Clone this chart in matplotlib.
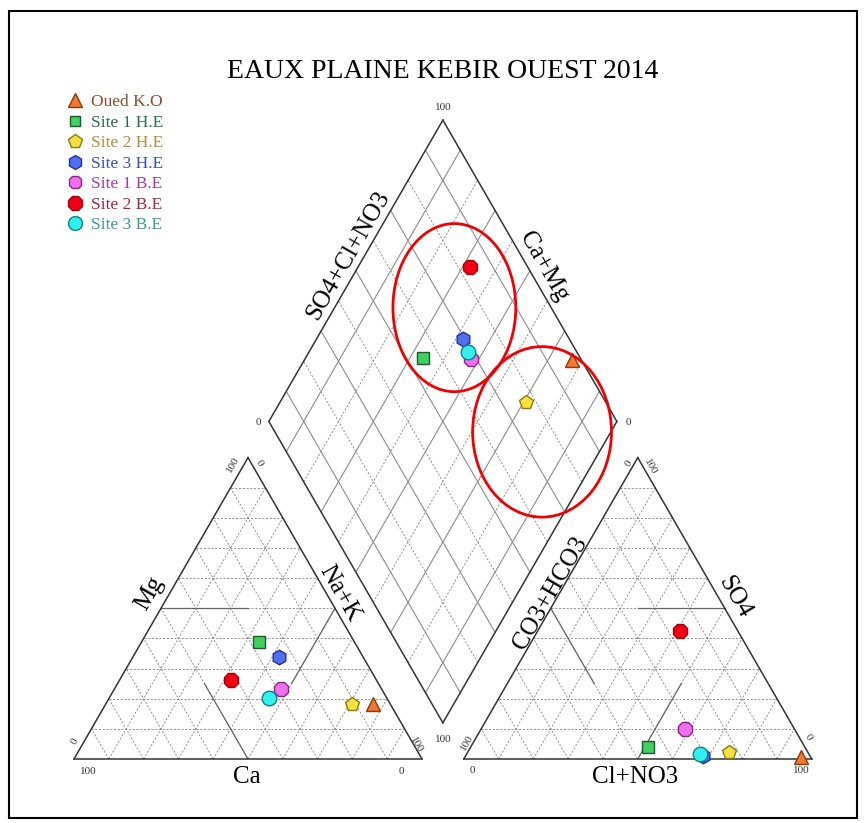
import matplotlib.pyplot as plt
import numpy as np
from matplotlib.patches import Ellipse, Rectangle

plt.rcParams['font.family'] = ['Liberation Serif', 'DejaVu Serif']

# echantillons
names = ['Oued K.O', 'Site 1 H.E', 'Site 2 H.E', 'Site 3 H.E',
         'Site 1 B.E', 'Site 2 B.E', 'Site 3 B.E']
# cations (% meq)
ca = [4.8, 27.3, 11.0, 24.0, 28.9, 41.7, 34.0]
mg = [18.3, 38.9, 18.3, 33.9, 23.3, 26.2, 20.2]
nak = [76.9, 33.8, 70.7, 42.1, 47.8, 32.1, 45.8]
# anions (% meq)
hco3 = [2.6, 45.0, 22.7, 30.7, 31.4, 16.7, 31.2]
so4 = [0.8, 4.0, 2.2, 1.0, 10.1, 42.5, 1.6]
cl = [96.6, 51.0, 75.1, 68.3, 58.5, 40.8, 67.2]

markers = ['^', 's', 'p', 'h', '8', '8', 'o']
fills = ['#F07830', '#40D060', '#F8E040', '#5070F0', '#F070F0', '#F00010', '#30F0F0']
edges = ['#8B3A0A', '#1A5A2A', '#8A7A10', '#2030A0', '#902090', '#A00010', '#108080']
text_cols = ['#8B4A2B', '#2E6B4F', '#A8923A', '#3A4FB8', '#A83AA8', '#A0283C', '#3A9A9A']
sizes = [10, 8, 10.5, 10.5, 10.5, 11, 10.5]

G = 12.0            # ecart entre triangles
H = np.sqrt(3) / 2


def cat_xy(c, m, n):
    return n + m / 2, m * H


def an_xy(h, s, c):
    return 100 + G + c + s / 2, s * H


def dia_xy(camg, so4cl):
    bx, by = 100 + G / 2, G / 2 * np.sqrt(3)
    return bx + (so4cl - camg) / 2, by + (so4cl + camg) * H


fig = plt.figure(figsize=(8.65, 8.23), dpi=100)
ax = fig.add_axes([0, 0, 1, 1])
S = 3.48
ax.set_xlim(-74 / S, (865 - 74) / S)
ax.set_ylim((759 - 823) / S, 759 / S)
ax.axis('off')

edge_kw = dict(color='0.2', lw=1.1, zorder=3)
grid_kw = dict(color='0.5', lw=0.6, ls=(0, (2.5, 2)), zorder=1)
div_kw = dict(color='0.4', lw=0.9, zorder=2)


def seg(f, a, b, **kw):
    p, q = f(*a), f(*b)
    ax.plot([p[0], q[0]], [p[1], q[1]], **kw)


# triangles
for f in (cat_xy, an_xy):
    seg(f, (100, 0, 0), (0, 0, 100), **edge_kw)
    seg(f, (0, 0, 100), (0, 100, 0), **edge_kw)
    seg(f, (0, 100, 0), (100, 0, 0), **edge_kw)
    for k in range(10, 100, 10):
        seg(f, (100 - k, k, 0), (0, k, 100 - k), **grid_kw)
        seg(f, (k, 0, 100 - k), (k, 100 - k, 0), **grid_kw)
        seg(f, (100 - k, 0, k), (0, 100 - k, k), **grid_kw)

seg(cat_xy, (50, 50, 0), (25, 50, 25), **div_kw)
seg(cat_xy, (50, 0, 50), (50, 25, 25), **div_kw)
seg(cat_xy, (0, 50, 50), (25, 25, 50), **div_kw)
seg(an_xy, (0, 50, 50), (25, 50, 25), **div_kw)
seg(an_xy, (50, 50, 0), (50, 25, 25), **div_kw)
seg(an_xy, (25, 25, 50), (50, 0, 50), **div_kw)

# losange
seg(dia_xy, (0, 0), (100, 0), **edge_kw)
seg(dia_xy, (100, 0), (100, 100), **edge_kw)
seg(dia_xy, (100, 100), (0, 100), **edge_kw)
seg(dia_xy, (0, 100), (0, 0), **edge_kw)
for k in range(10, 100, 10):
    if k % 20:
        kw = dict(color='0.55', lw=0.8, zorder=1)
    else:
        kw = grid_kw
    seg(dia_xy, (k, 0), (k, 100), **kw)
    seg(dia_xy, (0, k), (100, k), **kw)

# points
for i in range(len(names)):
    kw = dict(marker=markers[i], ms=sizes[i], mfc=fills[i], mec=edges[i],
              mew=1.0, ls='none', zorder=5)
    x, y = cat_xy(ca[i], mg[i], nak[i])
    ax.plot(x, y, label=names[i], **kw)
    x, y = an_xy(hco3[i], so4[i], cl[i])
    ax.plot(x, y, **kw)
    x, y = dia_xy(ca[i] + mg[i], so4[i] + cl[i])
    ax.plot(x, y, **kw)

# ellipses rouges
for c, w, h in [((109.3, 129.7), 35.3, 48.3), ((134.5, 94.0), 39.9, 49.0)]:
    ax.add_patch(Ellipse(c, w, h, fill=False, ec='#F00000', lw=2.0, zorder=6))

# titres d'axes
lab = dict(fontsize=18, ha='center', va='center')
ax.text(78.7, 144.8, 'SO4+Cl+NO3', rotation=60, **lab)
ax.text(134.9, 141.5, 'Ca+Mg', rotation=-60, **lab)
ax.text(21.8, 47.6, 'Mg', rotation=60, **lab)
ax.text(76.4, 47.6, 'Na+K', rotation=-60, **lab)
ax.text(49.7, -5.1, 'Ca', **lab)
ax.text(136.8, 47.6, 'CO3+HCO3', rotation=60, **lab)
ax.text(189.9, 46.6, 'SO4', rotation=-60, **lab)
ax.text(161.2, -5.1, 'Cl+NO3', **lab)

# graduations
tk = dict(fontsize=8, ha='center', va='center', color='0.2')
for x, y, s, r in [(106, 187.1, '100', 0), (52.9, 96.6, '0', 0),
                   (159.2, 96.6, '0', 0), (106, 5.5, '100', 0),
                   (4.1, -3.6, '100', 0), (94.2, -3.6, '0', 0),
                   (0.3, 5.0, '0', 60), (45.8, 84.5, '100', 60),
                   (53.2, 85.0, '0', -60), (98.5, 4.0, '100', -60),
                   (114.6, -3.4, '0', 0), (209.1, -3.4, '100', 0),
                   (113.0, 4.7, '100', 60), (159.3, 85.0, '0', 60),
                   (165.5, 84.0, '100', -60), (211.0, 6.2, '0', -60)]:
    ax.text(x, y, s, rotation=r, **tk)

fig.text(443 / 865, 1 - 72 / 823, 'EAUX PLAINE KEBIR OUEST 2014',
         fontsize=20, ha='center', va='center')

leg = ax.legend(loc='upper left', bbox_to_anchor=(68 / 865, 1 - 94 / 823),
                bbox_transform=fig.transFigure, frameon=False, fontsize=12.5,
                handlelength=0.8, handletextpad=0.55, labelspacing=0.25,
                borderpad=0, borderaxespad=0, markerscale=0.95,
                labelcolor=text_cols)

fig.add_artist(Rectangle((9 / 865, 1 - 818 / 823), 848 / 865, 807 / 823,
                         transform=fig.transFigure, fill=False, ec='k', lw=1.5))

fig.savefig('out.png', dpi=100)
